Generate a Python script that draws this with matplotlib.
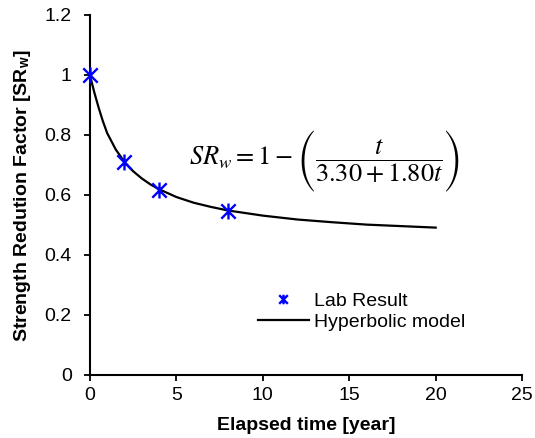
import matplotlib
matplotlib.use("Agg")
import matplotlib.pyplot as plt
from matplotlib.path import Path

plt.rcParams['font.family'] = ['Liberation Sans', 'DejaVu Sans']
plt.rcParams['mathtext.fontset'] = 'stix'

# Lab results
lab_t = [0, 2, 4, 8]
lab_sr = [1.0, 0.71, 0.615, 0.548]

# Hyperbolic model curve
model_t = [0, 0.25, 0.5, 0.75, 1, 1.5, 2, 2.5, 3, 3.5, 4, 5, 6, 7, 8, 10, 12, 14, 16, 18, 20]
model_sr = [1.0, 0.943, 0.892, 0.846, 0.806, 0.751, 0.710, 0.679, 0.655, 0.635, 0.619,
            0.593, 0.574, 0.560, 0.548, 0.531, 0.518, 0.509, 0.501, 0.496, 0.491]

xticks = [0, 5, 10, 15, 20, 25]
yticks = [0, 0.2, 0.4, 0.6, 0.8, 1.0, 1.2]
ytick_labels = ['0', '0.2', '0.4', '0.6', '0.8', '1', '1.2']

star = Path([(0, -1), (0, 1), (-0.9, -0.9), (0.9, 0.9), (-0.9, 0.9), (0.9, -0.9)],
            [Path.MOVETO, Path.LINETO, Path.MOVETO, Path.LINETO, Path.MOVETO, Path.LINETO])

fig = plt.figure(figsize=(5.35, 4.38), dpi=100)
ax = fig.add_axes([0.168, 0.144, 0.808, 0.822])

ax.plot(model_t, model_sr, color='black', lw=1.6, label='Hyperbolic model', zorder=2)
ax.plot(lab_t, lab_sr, linestyle='none', marker=star, markersize=11.5, markeredgewidth=1.7,
        color='#0000FF', label='Lab Result', zorder=3, clip_on=False)

ax.set_xlim(0, 25)
ax.set_ylim(0, 1.2)
ax.set_xticks(xticks)
ax.set_xticklabels([str(v) for v in xticks])
ax.set_yticks(yticks)
ax.set_yticklabels(ytick_labels)
ax.tick_params(direction='out', length=4, width=1.3, labelsize=14)
ax.tick_params(axis='y', pad=9)
ax.tick_params(axis='x', pad=5)
for s in ['top', 'right']:
    ax.spines[s].set_visible(False)
for s in ['left', 'bottom']:
    ax.spines[s].set_linewidth(1.5)

ax.set_xlabel('Elapsed time [year]', fontsize=14, fontweight='bold', labelpad=9)
ax.set_ylabel('Strength Redution Factor [SR$_\\mathregular{w}$]', fontsize=14, fontweight='bold', labelpad=8)

eq = (r'$SR_w = 1 - \left(\overset{\ }{\underset{\ }{'
      r'\dfrac{\overset{\ }{t}}{\underset{\ }{3.30+1.80t}}}}\right)$')
ax.text(0.544, 0.594, eq, transform=ax.transAxes, fontsize=19, ha='center', va='center')

h, l = ax.get_legend_handles_labels()
leg = ax.legend([h[1], h[0]], [l[1], l[0]], loc='center left', bbox_to_anchor=(0.389, 0.176),
                frameon=False, fontsize=14, handlelength=2.6, handletextpad=0.26, labelspacing=0.15,
                borderpad=0, borderaxespad=0, markerscale=0.6)

fig.savefig('out.png', dpi=100)
